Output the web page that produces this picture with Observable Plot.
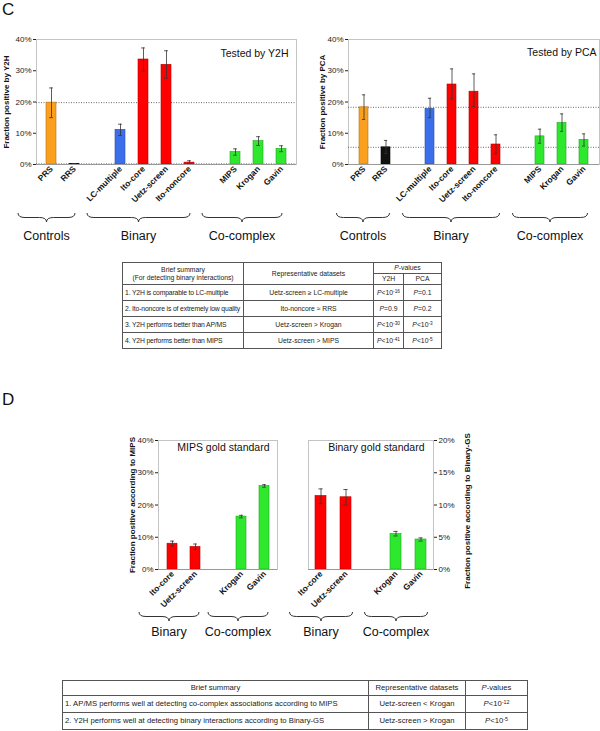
<!DOCTYPE html>
<html>
<head>
<meta charset="utf-8">
<script src="https://cdn.jsdelivr.net/npm/d3@7"></script>
<script src="https://cdn.jsdelivr.net/npm/@observablehq/plot@0.6"></script>
<style>
  html, body { margin: 0; padding: 0; background: #fff; }
  #root { position: relative; width: 600px; height: 731px; overflow: hidden; background: #fff;
          font-family: "Liberation Sans", Arial, sans-serif; color: #111; }
  .abs { position: absolute; }
  .letter { position: absolute; font-size: 17px; line-height: 17px; }
  table.t { position: absolute; border-collapse: collapse; table-layout: fixed;
            line-height: 1.1; border: 1.4px solid #444; color: #222; }
  table.t td { border: 1px solid #555; padding: 0 1px; text-align: center; vertical-align: middle; overflow: hidden; white-space: nowrap; }
  table.t td.l { text-align: left; padding-left: 2px; }
  table.t sup { font-size: 0.7em; vertical-align: 0.45em; line-height: 0; }
  #tc { font-size: 6.8px; }
  #tc td.l { letter-spacing: -0.15px; }
  #td { font-size: 7.7px; }
</style>
</head>
<body>
<div id="root">
  <div class="letter" style="left:2px;top:1px">C</div>
  <div class="letter" style="left:2px;top:391px">D</div>
  <div id="c1" class="abs" style="left:0;top:0"></div>
  <div id="c2" class="abs" style="left:300px;top:0"></div>
  <div id="d1" class="abs" style="left:100px;top:420px"></div>
  <div id="d2" class="abs" style="left:300px;top:420px"></div>
  <table id="tc" class="t" style="left:122px;top:262px;width:319px"></table>
  <table id="td" class="t" style="left:62px;top:680px;width:465px"></table>
</div>
<script>
// ---------- data ----------
const cCategories = ["PRS", "RRS", "LC-multiple", "Ito-core", "Uetz-screen", "Ito-noncore", "MIPS", "Krogan", "Gavin"];
const cGroups = ["Controls", "Controls", "Binary", "Binary", "Binary", "Binary", "Co-complex", "Co-complex", "Co-complex"];
const y2hValues = [19.8, 0.2, 11.1, 33.6, 31.9, 0.6, 4.0, 7.5, 5.0];
const y2hLow    = [15.0, 0.1, 9.3, 29.9, 27.6, 0.2, 3.0, 6.1, 4.1];
const y2hHigh   = [24.5, 0.3, 12.9, 37.3, 36.4, 1.2, 5.0, 8.9, 6.0];
const pcaValues = [18.3, 5.5, 17.8, 25.6, 23.3, 6.4, 9.0, 13.3, 7.9];
const pcaLow    = [14.4, 3.5, 15.0, 21.0, 18.5, 3.4, 6.8, 10.6, 5.9];
const pcaHigh   = [22.3, 7.7, 21.2, 30.6, 29.0, 9.5, 11.3, 16.2, 9.8];

const dCategories = ["Ito-core", "Uetz-screen", "Krogan", "Gavin"];
const dGroups = ["Binary", "Binary", "Co-complex", "Co-complex"];
const mipsValues = [8.0, 7.0, 16.4, 25.9];
const mipsLow    = [7.3, 6.3, 16.0, 25.5];
const mipsHigh   = [8.8, 7.9, 16.8, 26.3];
const bgsValues  = [11.4, 11.2, 5.5, 4.65];
const bgsLow     = [10.2, 10.0, 5.2, 4.4];
const bgsHigh    = [12.5, 12.4, 5.9, 4.9];

const yTicksC = [0, 10, 20, 30, 40];
const yTicksMips = [0, 10, 20, 30, 40];
const yTicksBgs = [0, 5, 10, 15, 20];

const cTableHeader = ["Brief summary", "(For detecting binary interactions)", "Representative datasets", "P-values", "Y2H", "PCA"];
const cTableSummary = ["1. Y2H is comparable to LC-multiple", "2. Ito-noncore is of extremely low quality",
                       "3. Y2H performs better than AP/MS", "4. Y2H performs better than MIPS"];
const cTableDatasets = ["Uetz-screen \u2265 LC-multiple", "Ito-noncore \u2248 RRS", "Uetz-screen > Krogan", "Uetz-screen > MIPS"];
const cTableY2H = ["<10^-16", "=0.9", "<10^-30", "<10^-41"];
const cTablePCA = ["=0.1", "=0.2", "<10^-3", "<10^-5"];

const dTableHeader = ["Brief summary", "Representative datasets", "P-values"];
const dTableSummary = ["1. AP/MS performs well at detecting co-complex associations according to MIPS",
                       "2. Y2H performs well at detecting binary interactions according to Binary-GS"];
const dTableDatasets = ["Uetz-screen < Krogan", "Uetz-screen > Krogan"];
const dTablePvals = ["<10^-12", "<10^-5"];

// ---------- styles ----------
const barColor = {
  "PRS": "#FA9F1E", "RRS": "#111111", "LC-multiple": "#3B6EEA",
  "Ito-core": "#FF0000", "Uetz-screen": "#FF0000", "Ito-noncore": "#FF0000",
  "MIPS": "#2EE82E", "Krogan": "#2EE82E", "Gavin": "#2EE82E"
};
const FONT = "'Liberation Sans', Arial, sans-serif";

function withGaps(cats, groups) {
  const out = [];
  cats.forEach((c, i) => { if (i > 0 && groups[i] !== groups[i - 1]) out.push("gap" + i); out.push(c); });
  return out;
}
function bracePath(x1, x2, y0, h) {
  const m = (x1 + x2) / 2, yB = y0 + h / 2, yC = y0 + h;
  const r = Math.min(7, (x2 - x1) / 4);
  return `M${x1},${y0} Q${x1},${yB} ${x1 + r},${yB} L${m - r},${yB} Q${m},${yB} ${m},${yC} ` +
         `Q${m},${yB} ${m + r},${yB} L${x2 - r},${yB} Q${x2},${yB} ${x2},${y0}`;
}
function braceMark(cats, groups, y0, labelY, startOff, endOff) {
  return (index, scales) => {
    const x = scales.x;
    const bw = typeof x.bandwidth === "function" ? x.bandwidth() : 0;
    const g = d3.create("svg:g");
    for (const grp of [...new Set(groups)]) {
      const members = cats.filter((c, i) => groups[i] === grp);
      const x1 = x(members[0]) + bw / 2 + startOff;
      const x2 = x(members[members.length - 1]) + bw / 2 + endOff;
      g.append("path").attr("d", bracePath(x1, x2, y0, 9)).attr("fill", "none")
        .attr("stroke", "#333").attr("stroke-width", 1);
      g.append("text").attr("x", (x1 + x2) / 2).attr("y", labelY).attr("text-anchor", "middle")
        .attr("font-size", 12.5).attr("fill", "#111").text(grp);
    }
    return g.node();
  };
}

function makeChart(o) {
  const domain = withGaps(o.cats, o.groups);
  const data = o.cats.map((c, i) => ({name: c, value: o.values[i], lo: o.low[i], hi: o.high[i]}));
  const step = (o.width - o.ml - o.mr) / domain.length;
  const bw = step * 0.43;
  const capInset = Math.max(0, (bw - 4) / 2);
  const errStyle = {stroke: "#333", strokeWidth: 0.8};
  const marks = [
    Plot.frame({stroke: "#c4c4c4"}),
  ];
  if (o.refLines) marks.push(Plot.ruleY(o.refLines, {stroke: "#444", strokeWidth: 0.8, strokeDasharray: "1,1.5"}));
  marks.push(
    Plot.barY(data, {x: "name", y: "value", fill: d => barColor[d.name],
      stroke: d => d3.color(barColor[d.name]).darker(0.9).formatHex(), strokeWidth: 0.6}),
    Plot.ruleX(data, {x: "name", y1: "lo", y2: "hi", ...errStyle}),
    Plot.tickY(data, {x: "name", y: "lo", insetLeft: capInset, insetRight: capInset, ...errStyle}),
    Plot.tickY(data, {x: "name", y: "hi", insetLeft: capInset, insetRight: capInset, ...errStyle}),
    Plot.ruleY([0], {stroke: "#999"}),
    Plot.text(o.cats, {x: d => d, text: d => d, frameAnchor: "bottom", rotate: -45, textAnchor: "end",
      dx: 2, dy: 5, fontWeight: "bold", fontSize: 8.4, fill: "#111"}),
    Plot.text([o.yLabel], {text: d => d, frameAnchor: o.axis === "right" ? "right" : "left", rotate: -90,
      textAnchor: "middle", dx: o.yLabelDx, dy: o.yLabelDy || 0, fontWeight: "bold", fontSize: 8, fill: "#111"}),
    Plot.text([o.title], {text: d => d, frameAnchor: "top-right", textAnchor: "end", lineAnchor: "middle",
      dx: o.titleDx, dy: o.titleDy, fontSize: 10.5, fill: "#111"}),
    braceMark(o.cats, o.groups, o.braceY, o.braceLabelY, o.braceStart, o.braceEnd)
  );
  return Plot.plot({
    width: o.width, height: o.height,
    marginLeft: o.ml, marginRight: o.mr, marginTop: o.mt, marginBottom: o.mb,
    style: {fontFamily: FONT, fontSize: "8px", background: "transparent", overflow: "visible", color: "#222"},
    color: {type: "identity"},
    x: {type: "band", domain, paddingInner: 0.57, paddingOuter: 0.285, axis: null},
    y: {domain: o.yDomain, ticks: o.yTicks.length - 1, tickFormat: d => d + "%", tickSize: 3, tickPadding: 2,
        label: null, axis: o.axis || "left"},
    marks
  });
}

const ctrl = (vals) => vals.filter((v, i) => cGroups[i] === "Controls");

document.getElementById("c1").append(makeChart({
  cats: cCategories, groups: cGroups, values: y2hValues, low: y2hLow, high: y2hHigh,
  yDomain: [0, 40], yTicks: yTicksC, width: 300, height: 250, ml: 36, mr: 4, mt: 39, mb: 86,
  yLabel: "Fraction positive by Y2H", yLabelDx: -30, title: "Tested by Y2H", titleDx: -8, titleDy: 14,
  refLines: ctrl(y2hValues), braceY: 213, braceLabelY: 240, braceStart: -33, braceEnd: 1
}));
document.getElementById("c2").append(makeChart({
  cats: cCategories, groups: cGroups, values: pcaValues, low: pcaLow, high: pcaHigh,
  yDomain: [0, 40], yTicks: yTicksC, width: 300, height: 250, ml: 48, mr: 1, mt: 39, mb: 86,
  yLabel: "Fraction positive by PCA", yLabelDx: -26, title: "Tested by PCA", titleDx: -3, titleDy: 13,
  refLines: ctrl(pcaValues), braceY: 213, braceLabelY: 240, braceStart: -27, braceEnd: 4
}));
document.getElementById("d1").append(makeChart({
  cats: dCategories, groups: dGroups, values: mipsValues, low: mipsLow, high: mipsHigh,
  yDomain: [0, 40], yTicks: yTicksMips, width: 200, height: 230, ml: 58, mr: 23, mt: 20, mb: 81,
  yLabel: "Fraction positive according to MIPS", yLabelDx: -26, title: "MIPS gold standard", titleDx: -8, titleDy: 7,
  braceY: 192, braceLabelY: 216, braceStart: -33, braceEnd: 4
}));
document.getElementById("d2").append(makeChart({
  cats: dCategories, groups: dGroups, values: bgsValues, low: bgsLow, high: bgsHigh, axis: "right",
  yDomain: [0, 20], yTicks: yTicksBgs, width: 180, height: 230, ml: 8, mr: 47, mt: 20, mb: 81,
  yLabel: "Fraction positive according to Binary-GS", yLabelDx: 34, yLabelDy: 6, title: "Binary gold standard", titleDx: -9, titleDy: 7,
  braceY: 192, braceLabelY: 216, braceStart: -31, braceEnd: 7
}));

// ---------- tables ----------
const pcell = s => "<i>P</i>" + s.replace("<", "&lt;").replace(/\^(-?\d+)/, "<sup>$1</sup>");

(function () {
  const t = document.getElementById("tc");
  t.innerHTML =
    `<colgroup><col style="width:121px"><col style="width:130px"><col style="width:30px"><col style="width:38px"></colgroup>` +
    `<tr style="height:11px"><td rowspan="2">${cTableHeader[0]}<br>${cTableHeader[1]}</td>` +
    `<td rowspan="2">${cTableHeader[2]}</td><td colspan="2"><i>P</i>${cTableHeader[3].slice(1)}</td></tr>` +
    `<tr style="height:11px"><td>${cTableHeader[4]}</td><td>${cTableHeader[5]}</td></tr>` +
    cTableSummary.map((s, i) =>
      `<tr style="height:16px"><td class="l">${s}</td><td>${cTableDatasets[i]}</td>` +
      `<td>${pcell(cTableY2H[i])}</td><td>${pcell(cTablePCA[i])}</td></tr>`).join("");
})();
(function () {
  const t = document.getElementById("td");
  t.innerHTML =
    `<colgroup><col style="width:306px"><col style="width:97px"><col style="width:62px"></colgroup>` +
    `<tr style="height:15px"><td>${dTableHeader[0]}</td><td>${dTableHeader[1]}</td><td><i>P</i>${dTableHeader[2].slice(1)}</td></tr>` +
    dTableSummary.map((s, i) =>
      `<tr style="height:17px"><td class="l">${s}</td><td>${dTableDatasets[i]}</td><td>${pcell(dTablePvals[i])}</td></tr>`).join("");
})();
</script>
</body>
</html>
